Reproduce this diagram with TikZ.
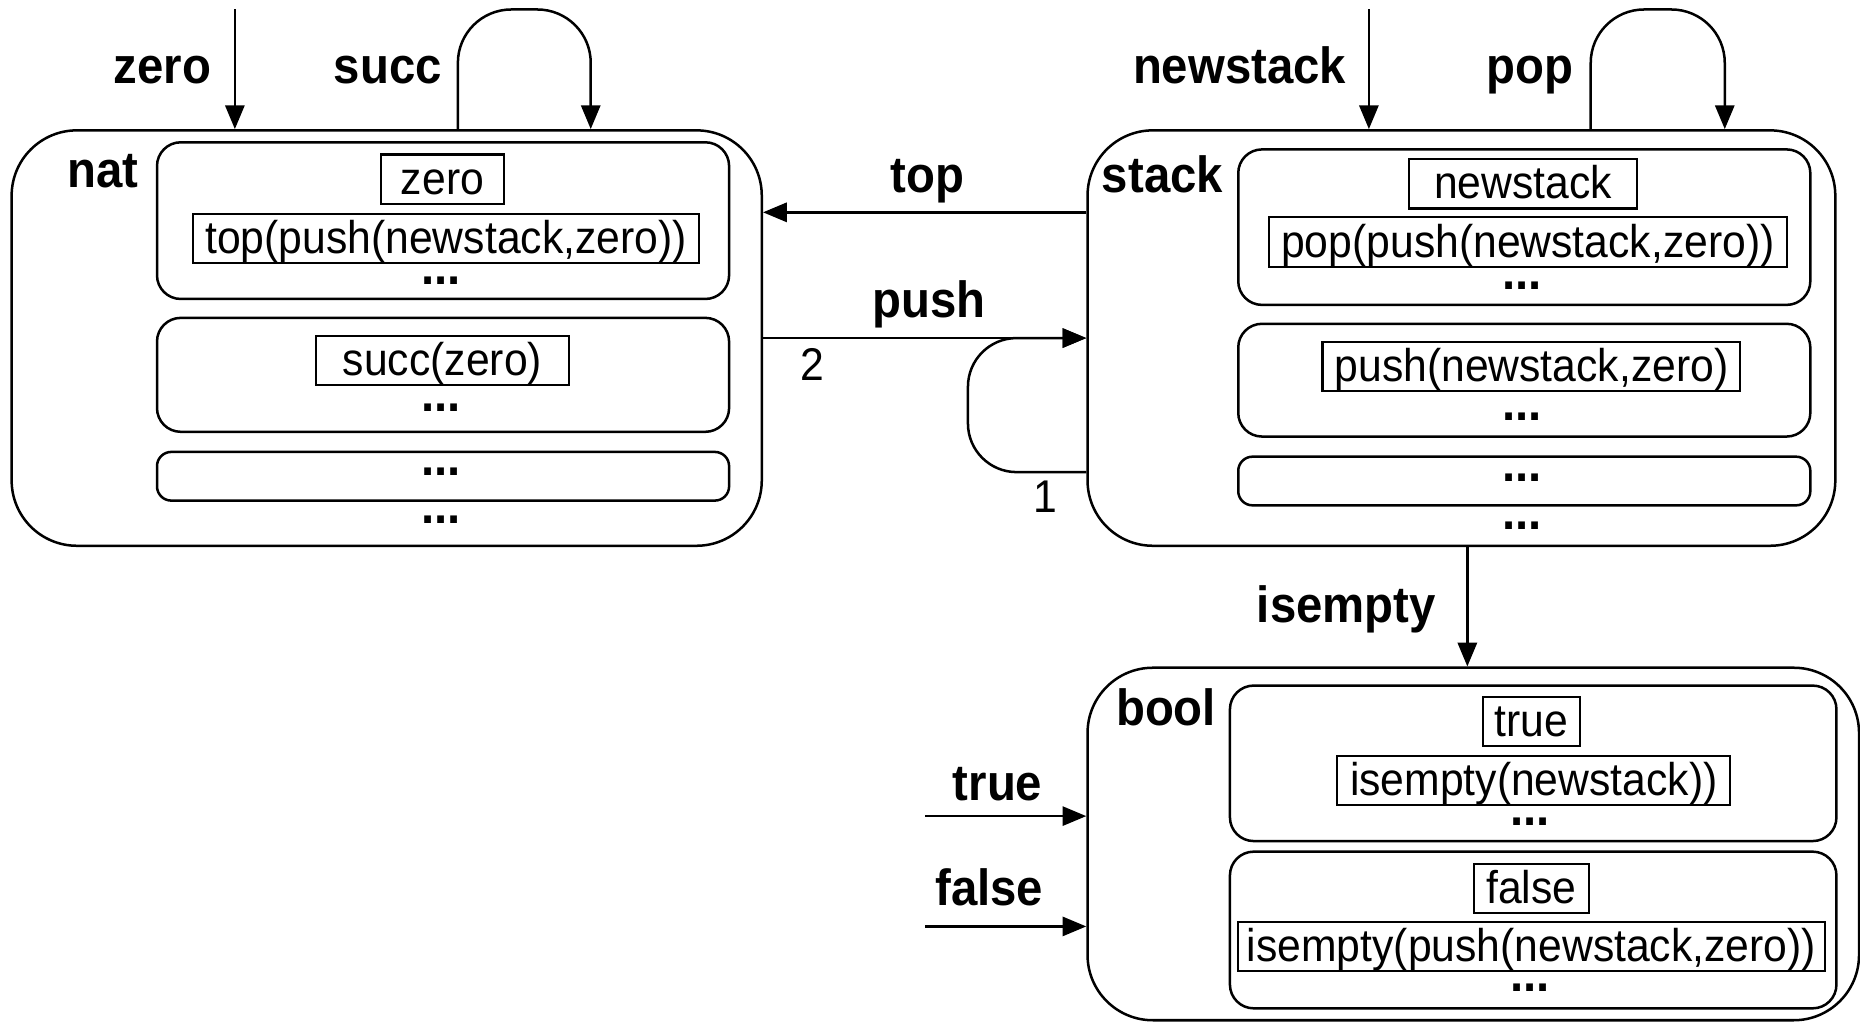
\documentclass[tikz,border=0pt]{standalone}
\usepackage{fontspec}
\setmainfont{Liberation Sans}[FakeStretch=0.93]
\usetikzlibrary{arrows.meta}

\begin{document}
\begin{tikzpicture}[x=0.01cm,y=-0.01cm,
  sort/.style={draw, line width=0.6pt, rounded corners=0.55cm},
  part/.style={draw, line width=0.6pt, rounded corners=0.2cm, minimum width=4.82cm},
  term/.style={draw, line width=0.5pt, font=\fontsize{11}{13}\selectfont, text height=0.315cm, text depth=0.06cm, inner ysep=0.02cm, inner xsep=0pt},
  opname/.style={font=\fontsize{12.2}{14}\selectfont\bfseries, anchor=base},
  more/.style={font=\fontsize{12.2}{14}\selectfont\bfseries, inner sep=0pt},
  num/.style={font=\fontsize{11}{13}\selectfont, anchor=base},
  arr/.style={line width=0.6pt, -{Triangle[length=5.7pt,width=4.6pt]}}]
\useasboundingbox (0,0) rectangle (1568,861);

\node[sort, minimum width=6.32cm, minimum height=3.5cm] (nat) at (326,285) {};
\node[sort, minimum width=6.30cm, minimum height=3.5cm] (stack) at (1232,285) {};
\node[sort, minimum width=6.50cm, minimum height=2.97cm] (bool) at (1242,711.5) {};

\node[opname] (natname) at (87,158) {nat};
\node[opname] (stackname) at (980,162) {stack};
\node[opname] (boolname) at (983,612) {bool};

\node[part, minimum height=1.32cm] (natA) at (373.5,186) {};
\node[part, minimum height=0.96cm] (natB) at (373.5,316) {};
\node[part, minimum height=0.41cm, rounded corners=0.12cm] (natC) at (373.5,401.5) {};
\node[term, minimum width=1.03cm] (zeroterm) at (373,151) {zero};
\node[term, minimum width=4.26cm] (topterm) at (376,201) {top(push(newstack,zero))};
\node[term, minimum width=2.13cm] (succterm) at (373,304) {succ(zero)};
\node[more] (natdotsA) at (372,237) {...};
\node[more] (natdotsB) at (372,344) {...};
\node[more] (natdotsC) at (372,398) {...};
\node[more] (natdots) at (372,438) {...};

\node[part, minimum height=1.31cm] (stackA) at (1285,191.5) {};
\node[part, minimum height=0.95cm] (stackB) at (1285,320.5) {};
\node[part, minimum height=0.41cm, rounded corners=0.12cm] (stackC) at (1285,405.5) {};
\node[term, minimum width=1.92cm] (newterm) at (1284,155) {newstack};
\node[term, minimum width=4.36cm] (popterm) at (1288,204) {pop(push(newstack,zero))};
\node[term, minimum width=3.52cm] (pushterm) at (1291,309) {push(newstack,zero)};
\node[more] (stackdotsA) at (1283,241) {...};
\node[more] (stackdotsB) at (1283,351) {...};
\node[more] (stackdotsC) at (1283,403) {...};
\node[more] (stackdots) at (1283,443) {...};

\node[part, minimum width=5.11cm, minimum height=1.31cm] (boolA) at (1292.5,643.5) {};
\node[part, minimum width=5.11cm, minimum height=1.32cm] (boolB) at (1292.5,784) {};
\node[term, minimum width=0.82cm] (trueterm) at (1291,608) {true};
\node[term, minimum width=3.31cm] (isnewterm) at (1293,658) {isempty(newstack))};
\node[term, minimum width=0.97cm] (falseterm) at (1291,749) {false};
\node[term, minimum width=4.94cm] (ispushterm) at (1291,798) {isempty(push(newstack,zero))};
\node[more] (booldotsA) at (1290,693) {...};
\node[more] (booldotsB) at (1290,833) {...};

\coordinate (zin) at (198,8);
\draw[arr] (zin) -- (zin |- nat.north);
\node[opname] (zerolbl) at (137,70) {zero};
\coordinate (sl) at (386,8);
\coordinate (sr) at (498,8);
\draw[arr, rounded corners=0.45cm] (sl |- nat.north) -- (sl) -- (sr) -- (sr |- nat.north);
\node[opname] (succlbl) at (327,70) {succ};

\coordinate (nin) at (1154,8);
\draw[arr] (nin) -- (nin |- stack.north);
\node[opname] (newlbl) at (1045,70) {newstack};
\coordinate (pl) at (1341,8);
\coordinate (pr) at (1454,8);
\draw[arr, rounded corners=0.45cm] (pl |- stack.north) -- (pl) -- (pr) -- (pr |- stack.north);
\node[opname] (poplbl) at (1290,70) {pop};

\coordinate (t) at (0,179);
\draw[arr] (t -| stack.west) -- (t -| nat.east);
\node[opname] (toplbl) at (782,162) {top};

\coordinate (p) at (0,285);
\draw[arr] (p -| nat.east) -- (p -| stack.west);
\node[opname] (pushlbl) at (783,268) {push};
\node[num] (two) at (685,321) {2};
\coordinate (q) at (816,398);
\draw[arr, rounded corners=0.41cm] (q -| stack.west) -- (q) -- (q |- p) -- (p -| stack.west);
\node[num] (one) at (881,432) {1};

\coordinate (ie) at (1237,0);
\draw[arr] (ie |- stack.south) -- (ie |- bool.north);
\node[opname] (islbl) at (1135,525) {isempty};

\coordinate (tr) at (780,688);
\draw[arr] (tr) -- (tr -| bool.west);
\node[opname] (truelbl) at (841,675) {true};
\coordinate (fa) at (780,781);
\draw[arr] (fa) -- (fa -| bool.west);
\node[opname] (falselbl) at (834,763) {false};
\end{tikzpicture}
\end{document}
